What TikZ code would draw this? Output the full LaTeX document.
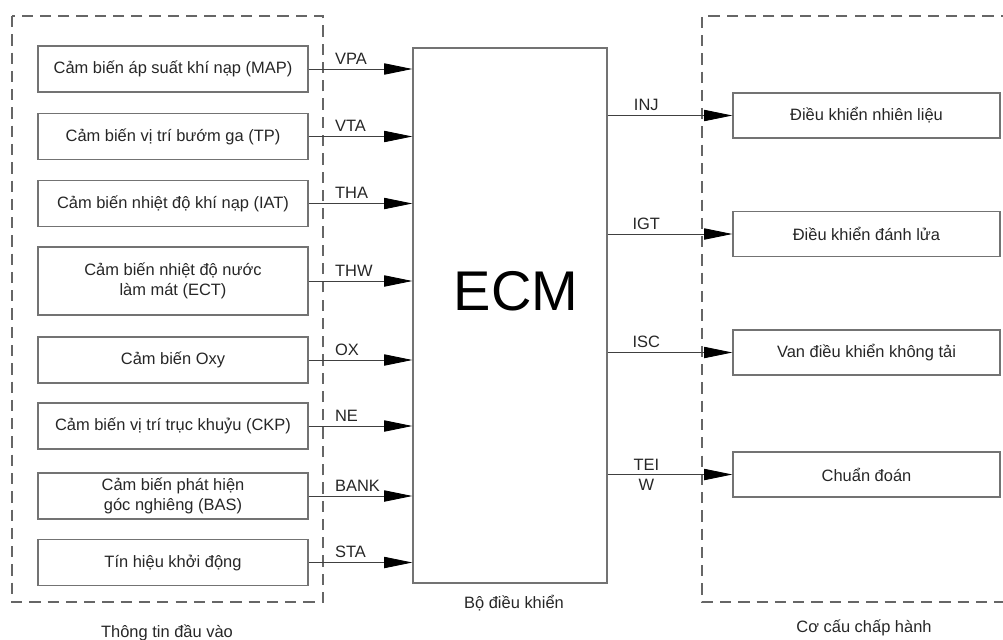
\documentclass[tikz,border=0pt]{standalone}
\usepackage{fontspec}
\setmainfont{Liberation Sans}
\usetikzlibrary{arrows.meta}

\begin{document}
\begin{tikzpicture}[x=0.025cm,y=-0.025cm,
  font=\fontsize{11.7}{14.2}\selectfont,
  sensor/.style={draw=black!55,line width=0.9pt,minimum width=6.75cm,minimum height=1.15cm,inner sep=2pt,align=center,text=black!85},
  actor/.style={draw=black!55,line width=0.9pt,minimum width=6.675cm,minimum height=1.125cm,inner sep=2pt,text=black!85},
  group/.style={draw=black!60,line width=0.8pt,dash pattern=on 8pt off 5pt},
  sig/.style={draw=black!75,line width=0.6pt,-{Triangle[length=20pt,width=8pt,color=black]}},
  sigtxt/.style={text=black!85,inner sep=3pt}]
\useasboundingbox (0,0) rectangle (1003,639);
\draw[group] (12,16) rectangle (323,602);
\draw[group] (1012,16) -- (702,16) -- (702,602) -- (1012,602);
\node[sensor] (s1) at (173,69) {Cảm biến áp suất khí nạp (MAP)};
\node[sensor] (s2) at (173,136.5) {Cảm biến vị trí bướm ga (TP)};
\node[sensor] (s3) at (173,203.5) {Cảm biến nhiệt độ khí nạp (IAT)};
\node[sensor,minimum height=1.7cm] (s4) at (173,281) {Cảm biến nhiệt độ nước\\làm mát (ECT)};
\node[sensor] (s5) at (173,360) {Cảm biến Oxy};
\node[sensor] (s6) at (173,426) {Cảm biến vị trí trục khuỷu (CKP)};
\node[sensor] (s7) at (173,496) {Cảm biến phát hiện\\góc nghiêng (BAS)};
\node[sensor] (s8) at (173,562.5) {Tín hiệu khởi động};
\node[draw=black!55,line width=0.9pt,minimum width=4.85cm,minimum height=13.375cm] (ecm) at (510,315.5) {};
\node[font=\fontsize{39.8}{44}\selectfont] (ecmtxt) at (516,291) {ECM};
\node[actor] (a1) at (866.5,115.5) {Điều khiển nhiên liệu};
\node[actor] (a2) at (866.5,234) {Điều khiển đánh lửa};
\node[actor] (a3) at (866.5,352.5) {Van điều khiển không tải};
\node[actor] (a4) at (866.5,474.5) {Chuẩn đoán};
\draw[sig] (s1.east) -- node[pos=0.21,above right,sigtxt] {VPA} (s1.east -| ecm.west);
\draw[sig] (s2.east) -- node[pos=0.21,above right,sigtxt] {VTA} (s2.east -| ecm.west);
\draw[sig] (s3.east) -- node[pos=0.21,above right,sigtxt] {THA} (s3.east -| ecm.west);
\draw[sig] (s4.east) -- node[pos=0.21,above right,sigtxt] {THW} (s4.east -| ecm.west);
\draw[sig] (s5.east) -- node[pos=0.21,above right,sigtxt] {OX} (s5.east -| ecm.west);
\draw[sig] (s6.east) -- node[pos=0.21,above right,sigtxt] {NE} (s6.east -| ecm.west);
\draw[sig] (s7.east) -- node[pos=0.21,above right,sigtxt] {BANK} (s7.east -| ecm.west);
\draw[sig] (s8.east) -- node[pos=0.21,above right,sigtxt] {STA} (s8.east -| ecm.west);
\draw[sig] (ecm.east |- a1.west) -- node[pos=0.31,above,sigtxt] {INJ} (a1.west);
\draw[sig] (ecm.east |- a2.west) -- node[pos=0.31,above,sigtxt] {IGT} (a2.west);
\draw[sig] (ecm.east |- a3.west) -- node[pos=0.31,above,sigtxt] {ISC} (a3.west);
\draw[sig] (ecm.east |- a4.west) -- node[pos=0.31,align=center,text=black!85] {TEI\\W} (a4.west);
\node[text=black!85] (cap1) at (167,633) {Thông tin đầu vào};
\node[text=black!85] (cap2) at (514,603) {Bộ điều khiển};
\node[text=black!85] (cap3) at (864,628) {Cơ cấu chấp hành};
\end{tikzpicture}
\end{document}
